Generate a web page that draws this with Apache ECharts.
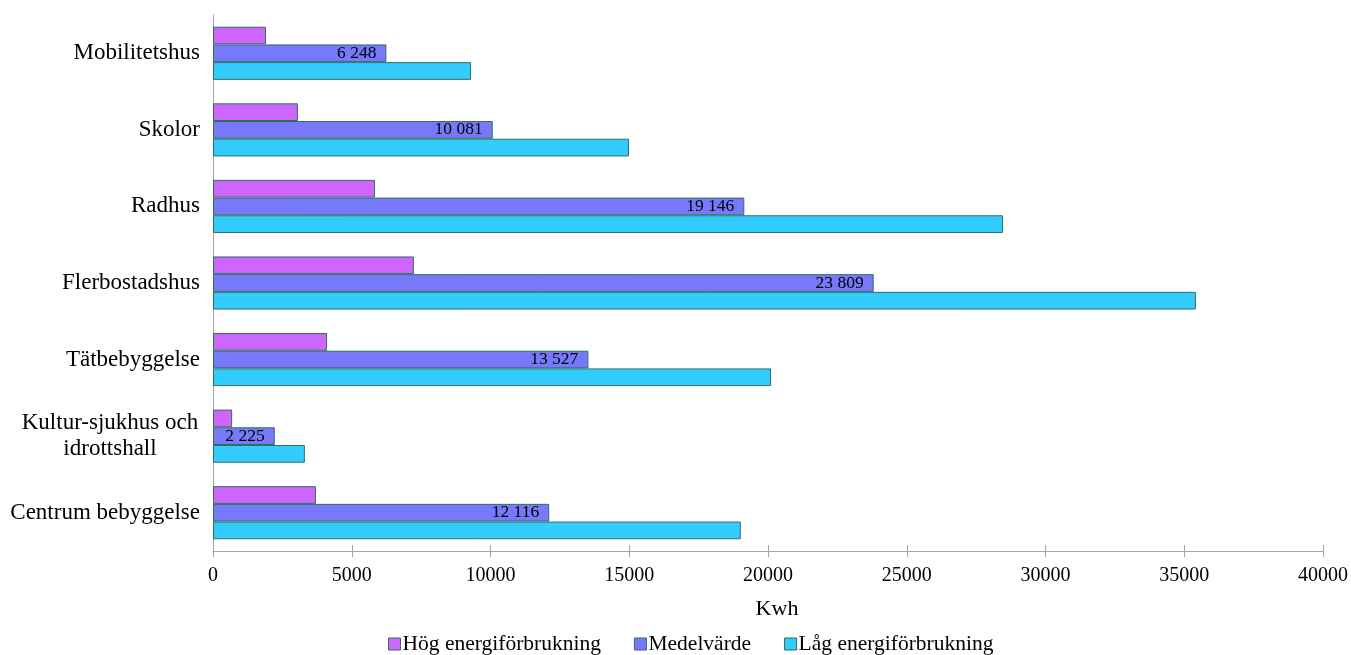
<!DOCTYPE html>
<html>
<head>
<meta charset="utf-8">
<script src="https://cdn.jsdelivr.net/npm/echarts@6/dist/echarts.min.js"></script>
<style>
  html, body { margin: 0; padding: 0; background: #ffffff; }
  #chart { width: 1351px; height: 655px; }
</style>
</head>
<body>
<div id="chart"></div>
<script>
// Energy use per building type (kWh), bottom-to-top category order
const categories = [
  'Centrum bebyggelse',
  'Kultur-sjukhus och\nidrottshall',
  'Tätbebyggelse',
  'Flerbostadshus',
  'Radhus',
  'Skolor',
  'Mobilitetshus'
];
const hogValues   = [3710, 690, 4110, 7240, 5840, 3060, 1910];
const medelValues = [12116, 2225, 13527, 23809, 19146, 10081, 6248];
const lagValues   = [19020, 3310, 20110, 35420, 28470, 14990, 9300];
const seriesNames = ['Hög energiförbrukning', 'Medelvärde', 'Låg energiförbrukning'];
const xTicks = { min: 0, max: 40000, interval: 5000 };

const serif = '"Liberation Serif", "DejaVu Serif", serif';
const borderColor = '#2f6f5f';
const axisGray = '#a6a6a6';

function spaced(v) {
  return String(v).replace(/\B(?=(\d{3})+(?!\d))/g, ' ');
}

const chart = echarts.init(document.getElementById('chart'));

function barSeries(name, data, color, withLabel) {
  return {
    name: name,
    type: 'bar',
    xAxisIndex: 0,
    data: data,
    barWidth: 17.7,
    barGap: '0%',
    itemStyle: { color: color, borderColor: borderColor, borderWidth: 1 },
    label: withLabel ? {
      show: true,
      position: 'insideRight',
      distance: 10,
      color: '#000',
      fontFamily: serif,
      fontSize: 17.5,
      formatter: p => spaced(p.value)
    } : { show: false },
    emphasis: { disabled: true },
    animation: false
  };
}

const valueAxisBase = {
  type: 'value',
  min: xTicks.min,
  max: xTicks.max,
  interval: xTicks.interval,
  position: 'bottom',
  splitLine: { show: false }
};

chart.setOption({
  animation: false,
  grid: { left: 213, right: 28, top: 15, bottom: 104, containLabel: false },
  xAxis: [
    Object.assign({}, valueAxisBase, {
      name: 'Kwh',
      nameLocation: 'middle',
      nameGap: 47,
      nameTextStyle: { fontFamily: serif, fontSize: 22, color: '#000', padding: [0, 0, 0, 18] },
      axisLine: { show: true, lineStyle: { color: axisGray, width: 1 } },
      axisTick: { show: true, inside: false, length: 6, lineStyle: { color: axisGray } },
      axisLabel: { fontFamily: serif, fontSize: 20, color: '#000', margin: 15, formatter: v => String(v) }
    }),
    // inner half of the crossing tick marks
    Object.assign({}, valueAxisBase, {
      axisLine: { show: false },
      axisTick: { show: true, inside: true, length: 6, lineStyle: { color: axisGray } },
      axisLabel: { show: false }
    })
  ],
  yAxis: {
    type: 'category',
    data: categories,
    axisLine: { show: true, lineStyle: { color: axisGray, width: 1 } },
    axisTick: { show: false },
    axisLabel: {
      fontFamily: serif,
      fontSize: 23,
      color: '#000',
      margin: 13,
      lineHeight: 26,
      formatter: v => v.indexOf('\n') >= 0
        ? v.split('\n').map(s => '{c|' + s + '}').join('\n')
        : v,
      rich: {
        c: { fontFamily: serif, fontSize: 23, color: '#000', width: 180, align: 'center', lineHeight: 26 }
      }
    }
  },
  legend: {
    bottom: -5,
    left: 383,
    itemWidth: 12,
    itemHeight: 12,
    itemGap: 33,
    icon: 'rect',
    textStyle: { fontFamily: serif, fontSize: 21.5, color: '#000', padding: [0, 0, 0, -3] },
    data: seriesNames.map(n => ({ name: n, itemStyle: { borderColor: borderColor, borderWidth: 1 } }))
  },
  series: [
    barSeries(seriesNames[0], hogValues, '#cc66ff', false),
    barSeries(seriesNames[1], medelValues, '#7878fb', true),
    barSeries(seriesNames[2], lagValues, '#33ccff', false)
  ]
});
</script>
</body>
</html>
